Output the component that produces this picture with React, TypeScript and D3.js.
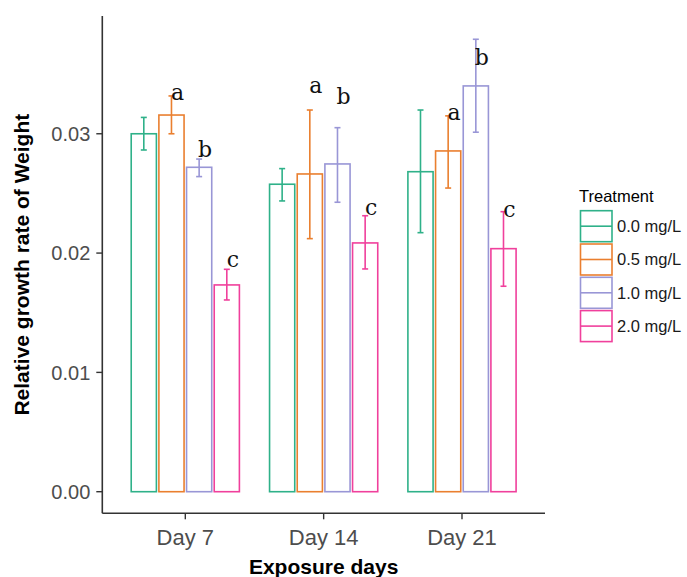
import React from 'react'
import * as d3 from 'd3'

const days = ['Day 7', 'Day 14', 'Day 21']
const treatments = ['0.0 mg/L', '0.5 mg/L', '1.0 mg/L', '2.0 mg/L']
const colors = ['#2fb189', '#ea7f2f', '#9996d6', '#f0409c']

// mean, error upper, error lower for each treatment, one entry per day
const means = [
  [0.0300, 0.02577, 0.02682],
  [0.03157, 0.02663, 0.02856],
  [0.02719, 0.02747, 0.03401],
  [0.01733, 0.02085, 0.02037],
]
const upper = [
  [0.03137, 0.02708, 0.03199],
  [0.03317, 0.03199, 0.03150],
  [0.02788, 0.03051, 0.03792],
  [0.01864, 0.02313, 0.02347],
]
const lower = [
  [0.02864, 0.02437, 0.02171],
  [0.0300, 0.02121, 0.02545],
  [0.02641, 0.02426, 0.03013],
  [0.01607, 0.01867, 0.01722],
]
// significance letters and where they sit (data units)
const letters = [
  ['', '', ''],
  ['a', 'a', 'a'],
  ['b', 'b', 'b'],
  ['c', 'c', 'c'],
]
const letterAt = [
  [0, 0, 0],
  [0.03283, 0.03342, 0.03116],
  [0.02806, 0.0325, 0.03577],
  [0.01883, 0.02319, 0.02303],
]
const yTicks = [0, 0.01, 0.02, 0.03]

const W = 687
const H = 577
const left = 102.3
const right = 545
const top = 16
const bottom = 513.3

const App = () => {
  const x = d3.scalePoint<string>().domain(days).range([left, right]).padding(0.6)
  const step = x.step()
  const inner = d3.scaleBand<string>()
    .domain(treatments)
    .range([-0.4 * step, 0.4 * step])
  const bw = inner.bandwidth() * 0.91
  const y = d3.scaleLinear().domain([-0.00181, 0.03987]).range([bottom, top])
  const axisCol = '#333333'
  const tickCol = '#4d4d4d'
  const sans = 'Arial, "Liberation Sans", sans-serif'

  return (
    <svg width={W} height={H} style={{ position: 'absolute', left: 0, top: 0, background: '#fff' }}>
      {/* bars */}
      {treatments.map((t, ti) => (
        <g key={t} stroke={colors[ti]} fill="none" strokeWidth={1.6}>
          {days.map((d, di) => {
            const cx = (x(d) as number) + (inner(t) as number) + inner.bandwidth() / 2
            return (
              <g key={d}>
                <rect x={cx - bw / 2} y={y(means[ti][di])} width={bw}
                  height={y(0) - y(means[ti][di])} fill="#fff" />
                <line x1={cx} x2={cx} y1={y(upper[ti][di])} y2={y(lower[ti][di])} />
                <line x1={cx - 3} x2={cx + 3} y1={y(upper[ti][di])} y2={y(upper[ti][di])} />
                <line x1={cx - 3} x2={cx + 3} y1={y(lower[ti][di])} y2={y(lower[ti][di])} />
              </g>
            )
          })}
        </g>
      ))}
      {/* letters */}
      {treatments.map((t, ti) => days.map((d, di) => {
        if (!letters[ti][di]) return null
        const cx = (x(d) as number) + (inner(t) as number) + inner.bandwidth() / 2
        return (
          <text key={t + d} x={cx + 6} y={y(letterAt[ti][di])} textAnchor="middle"
            fontFamily='"DejaVu Serif", serif' fontSize={22} fill="#111">
            {letters[ti][di]}
          </text>
        )
      }))}
      {/* axes */}
      <line x1={left} x2={left} y1={top} y2={bottom} stroke={axisCol} strokeWidth={1.6} />
      <line x1={left} x2={right} y1={bottom} y2={bottom} stroke={axisCol} strokeWidth={1.6} />
      {yTicks.map((v) => (
        <g key={v}>
          <line x1={left - 6} x2={left} y1={y(v)} y2={y(v)} stroke={axisCol} strokeWidth={1.4} />
          <text x={left - 12} y={y(v)} dy="0.36em" textAnchor="end" fontFamily={sans}
            fontSize={20} fill={tickCol}>{d3.format('.2f')(v)}</text>
        </g>
      ))}
      {days.map((d) => (
        <g key={d}>
          <line x1={x(d)} x2={x(d)} y1={bottom} y2={bottom + 6} stroke={axisCol} strokeWidth={1.4} />
          <text x={x(d)} y={545} textAnchor="middle" fontFamily={sans} fontSize={22}
            fill={tickCol}>{d}</text>
        </g>
      ))}
      <text x={(left + right) / 2} y={574} textAnchor="middle" fontFamily={sans}
        fontSize={21} fontWeight="bold" fill="#000">Exposure days</text>
      <text transform={`translate(29,${(top + bottom) / 2}) rotate(-90)`} textAnchor="middle"
        fontFamily={sans} fontSize={21} fontWeight="bold" fill="#000">
        Relative growth rate of Weight
      </text>
      {/* legend */}
      <text x={579} y={202} fontFamily={sans} fontSize={16.5} fill="#000">Treatment</text>
      {treatments.map((t, ti) => {
        const ky = 210.7 + ti * 33.3
        return (
          <g key={t}>
            <rect x={580.5} y={ky} width={31.5} height={31} fill="#fff" stroke={colors[ti]}
              strokeWidth={1.6} />
            <line x1={580.5} x2={612} y1={ky + 15.5} y2={ky + 15.5} stroke={colors[ti]}
              strokeWidth={1.6} />
            <text x={617} y={ky + 15.5} dy="0.36em" fontFamily={sans} fontSize={16.5}
              fill="#1a1a1a">{t}</text>
          </g>
        )
      })}
    </svg>
  )
}

export default App
